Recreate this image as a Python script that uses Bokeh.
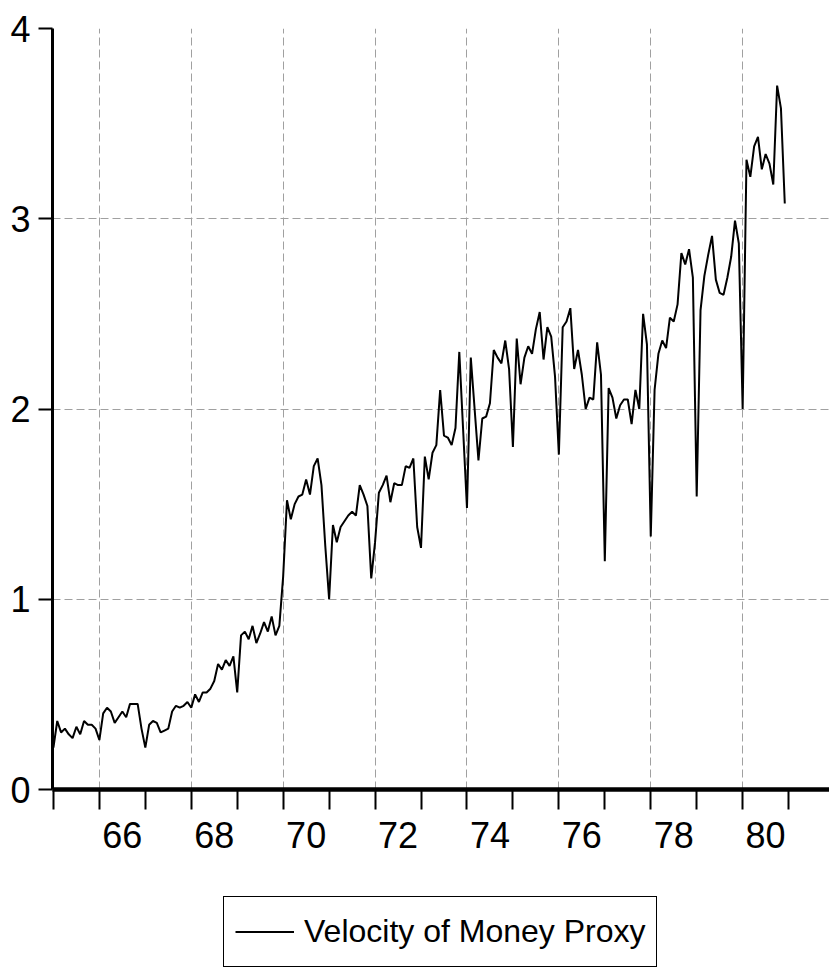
from bokeh.plotting import figure
from bokeh.layouts import column
from bokeh.models import (Range1d, FixedTicker, LinearAxis, Grid, Legend, LegendItem,
                          CustomJSTickFormatter)
from bokeh.embed import file_html
from bokeh.resources import INLINE

# ---- data: monthly, 1965:01 - 1980:12 ----
start_year = 1965
v1965 = [0.22, 0.36, 0.30, 0.32, 0.29, 0.27, 0.33, 0.29, 0.36, 0.34, 0.34, 0.32]
v1966 = [0.26, 0.40, 0.43, 0.41, 0.35, 0.38, 0.41, 0.38, 0.45, 0.45, 0.45, 0.32]
v1967 = [0.22, 0.34, 0.36, 0.35, 0.30, 0.31, 0.32, 0.41, 0.44, 0.43, 0.44, 0.46]
v1968 = [0.43, 0.50, 0.46, 0.51, 0.51, 0.53, 0.57, 0.66, 0.63, 0.68, 0.65, 0.70]
v1969 = [0.51, 0.81, 0.83, 0.79, 0.86, 0.77, 0.82, 0.88, 0.83, 0.91, 0.81, 0.86]
v1970 = [1.12, 1.52, 1.42, 1.50, 1.54, 1.55, 1.63, 1.55, 1.70, 1.74, 1.60, 1.28]
v1971 = [1.00, 1.39, 1.30, 1.38, 1.41, 1.44, 1.46, 1.44, 1.60, 1.55, 1.49, 1.11]
v1972 = [1.30, 1.56, 1.60, 1.65, 1.51, 1.61, 1.60, 1.60, 1.70, 1.69, 1.74, 1.38]
v1973 = [1.27, 1.75, 1.63, 1.77, 1.81, 2.10, 1.86, 1.85, 1.81, 1.90, 2.30, 1.89]
v1974 = [1.48, 2.27, 2.00, 1.73, 1.95, 1.96, 2.03, 2.31, 2.27, 2.24, 2.36, 2.21]
v1975 = [1.80, 2.37, 2.13, 2.27, 2.33, 2.29, 2.42, 2.51, 2.26, 2.43, 2.38, 2.17]
v1976 = [1.76, 2.43, 2.46, 2.53, 2.21, 2.31, 2.18, 2.00, 2.06, 2.05, 2.35, 2.18]
v1977 = [1.20, 2.11, 2.06, 1.95, 2.02, 2.05, 2.05, 1.92, 2.10, 2.00, 2.50, 2.34]
v1978 = [1.33, 2.10, 2.29, 2.36, 2.32, 2.48, 2.46, 2.55, 2.82, 2.76, 2.84, 2.69]
v1979 = [1.54, 2.52, 2.70, 2.81, 2.91, 2.68, 2.61, 2.60, 2.69, 2.80, 2.99, 2.87]
v1980 = [2.00, 3.31, 3.22, 3.38, 3.43, 3.26, 3.34, 3.29, 3.18, 3.70, 3.58, 3.08]

series_name = "Velocity of Money Proxy"
year_ticks = list(range(1965, 1982))            # yearly tick marks
labelled_years = list(range(1966, 1981, 2))     # labelled / gridded years
year_labels = ["66", "68", "70", "72", "74", "76", "78", "80"]
y_ticks = [0, 1, 2, 3, 4]
y_grid = [1, 2, 3]

values = (v1965 + v1966 + v1967 + v1968 + v1969 + v1970 + v1971 + v1972 +
          v1973 + v1974 + v1975 + v1976 + v1977 + v1978 + v1979 + v1980)
dates = [start_year + i / 12.0 for i in range(len(values))]

FONT = "Liberation Sans"
TICK_SIZE = "36px"
LEGEND_SIZE = "32px"

# ---------------- main chart ----------------
p = figure(width=829, height=878, output_backend="svg", toolbar_location=None,
           x_range=Range1d(1964.98, 1981.89), y_range=Range1d(0, 4),
           x_axis_type=None, y_axis_type=None,
           min_border_left=52, min_border_right=0, min_border_top=28,
           min_border_bottom=89)
p.outline_line_color = None
p.background_fill_color = "white"
p.border_fill_color = "white"

gx = Grid(dimension=0, ticker=FixedTicker(ticks=labelled_years),
          grid_line_color="#a0a0a0", grid_line_dash="8 4", grid_line_width=1)
gy = Grid(dimension=1, ticker=FixedTicker(ticks=y_grid),
          grid_line_color="#a0a0a0", grid_line_dash="8 4", grid_line_width=1)
p.add_layout(gx)
p.add_layout(gy)

line = p.line(dates, values, line_color="black", line_width=2)

yaxis = LinearAxis(ticker=FixedTicker(ticks=y_ticks, minor_ticks=[]),
                   axis_line_width=3, axis_line_color="black",
                   major_tick_in=0, major_tick_out=14, major_tick_line_width=2,
                   minor_tick_line_color=None,
                   major_label_text_font=FONT, major_label_text_font_size=TICK_SIZE,
                   major_label_text_color="black", major_label_standoff=8)
p.add_layout(yaxis, "left")

label_pos = [y + 0.5 for y in labelled_years]
xaxis = LinearAxis(ticker=FixedTicker(ticks=label_pos, minor_ticks=year_ticks),
                   formatter=CustomJSTickFormatter(
                       args=dict(pos=label_pos, labels=year_labels),
                       code="""
                       for (let i = 0; i < pos.length; i++) {
                         if (Math.abs(pos[i] - tick) < 1e-6) return labels[i];
                       }
                       return '';
                       """),
                   axis_line_width=4.5, axis_line_color="black",
                   major_tick_line_color=None, major_tick_in=0, major_tick_out=20,
                   minor_tick_in=0, minor_tick_out=20, minor_tick_line_width=2,
                   minor_tick_line_color="black",
                   major_label_text_font=FONT, major_label_text_font_size=TICK_SIZE,
                   major_label_text_color="black", major_label_standoff=12)
p.add_layout(xaxis, "below")

# ---------------- legend strip ----------------
lf = figure(width=829, height=90, output_backend="svg", toolbar_location=None,
            x_range=Range1d(0, 1), y_range=Range1d(0, 1),
            x_axis_type=None, y_axis_type=None, min_border=0)
lf.outline_line_color = None
lf.background_fill_color = "white"
lf.border_fill_color = "white"
leg_line = lf.line(dates, values, line_color="black", line_width=2)

legend = Legend(items=[LegendItem(label=series_name, renderers=[leg_line])],
                location=(171, 1), orientation="vertical",
                border_line_color="black", border_line_width=1.5,
                border_line_alpha=1.0,
                background_fill_color="white", background_fill_alpha=1.0,
                label_text_font=FONT, label_text_font_size=LEGEND_SIZE,
                label_text_color="black", glyph_width=59, glyph_height=47,
                label_standoff=10, padding=11, margin=0, spacing=0)
lf.add_layout(legend)

layout = column(p, lf, spacing=0)
open("out.html", "w").write(file_html(layout, INLINE))
